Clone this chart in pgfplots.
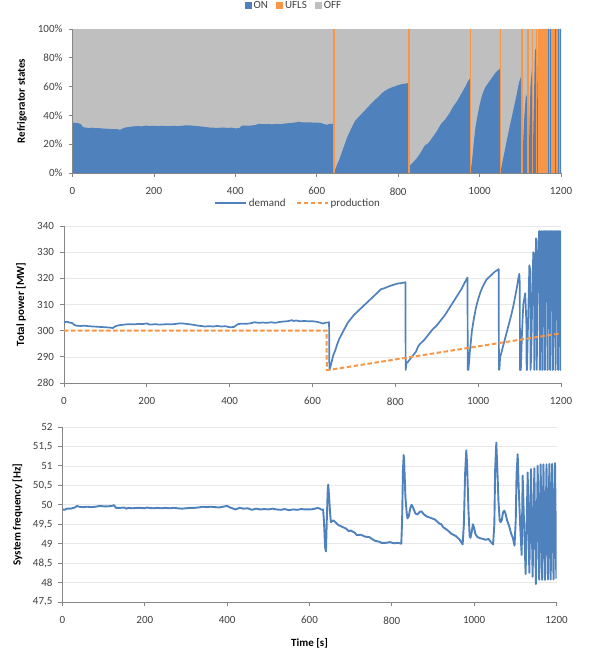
\documentclass[border=0pt]{standalone}
\usepackage{fontspec}
\setmainfont{Carlito}
\usepackage{pgfplots}
\pgfplotsset{compat=1.18}
\definecolor{onblue}{HTML}{4F81BD}
\definecolor{uorange}{HTML}{F79646}
\definecolor{offgray}{HTML}{BFBFBF}
\definecolor{axgray}{HTML}{868686}
\definecolor{tickc}{HTML}{404040}
\pgfplotsset{
  myaxis/.style={
    scale only axis,
    xmin=0, xmax=1200,
    xtick={0,200,...,1200},
    axis x line*=bottom, axis y line*=left,
    axis line style={axgray, line width=0.8pt},
    tick style={axgray, line width=0.8pt},
    tick align=outside,
    major tick length=4pt,
    ticklabel style={font=\fontsize{11}{13}\selectfont, text=tickc},
    label style={font=\bfseries\fontsize{11}{13}\selectfont},
    /pgf/number format/assume math mode=true,
    /pgf/number format/1000 sep={},
    xticklabel style={yshift=-7pt},
    yticklabel style={xshift=-2.5pt},
    ylabel style={anchor=center},
    legend style={draw=none, fill=none, font=\fontsize{11}{13}\selectfont, text=tickc},
  }
}
\begin{document}
\begin{tikzpicture}
\path[use as bounding box] (0pt,0pt) rectangle (590pt,654pt);
% ---------------- top: refrigerator states
\begin{axis}[myaxis, at={(72.5pt,481pt)}, anchor=south west,
  width=488.5pt, height=144pt, ymin=0, ymax=100, ytick={0,20,...,100},
  yticklabel={\pgfmathprintnumber{\tick}\%},
  ylabel={Refrigerator states},
  ylabel style={at={(axis description cs:-0.1034,0.5)}},
  axis on top,
  legend columns=3,
  legend style={at={(0.4534,1.1618)}, anchor=center,
    /tikz/every even column/.append style={column sep=6pt}},
  legend image code/.code={\path[#1, draw=none] (0pt,-3.5pt) rectangle (7pt,3.5pt);}]
\addplot[fill=offgray, draw=none, forget plot] coordinates {(0,100) (1200,100)} \closedcycle;
\addplot[fill=onblue, draw=none, forget plot] coordinates {
(0,34.5) (3,35.0) (8,34.6) (12,34.8) (18,34.2) (22,33.5) (25,32.0) (30,31.6) (40,31.2) (50,31.5)
(55,31.0) (60,31.3) (70,31.0) (80,30.8) (90,30.6) (100,30.5) (110,30.4) (118,30.0) (122,30.8) (130,31.6)
(140,32.0) (150,32.4) (160,32.6) (170,32.4) (180,32.9) (190,32.6) (200,32.8) (210,32.5) (220,32.8) (230,32.6)
(240,32.6) (250,32.7) (260,32.5) (270,32.9) (280,33.1) (290,33.0) (300,32.7) (310,32.5) (320,32.2) (330,31.8)
(340,31.5) (350,31.4) (360,31.4) (370,31.6) (380,31.3) (390,31.5) (400,31.0) (410,31.2) (415,32.6) (420,33.0)
(430,32.8) (440,33.0) (450,33.3) (455,34.0) (460,34.1) (470,33.9) (480,34.0) (490,33.8) (500,34.1) (510,33.9)
(520,34.3) (530,34.6) (540,34.8) (550,35.2) (555,35.6) (560,35.3) (570,35.1) (580,35.2) (590,35.0) (600,35.0)
(610,34.8) (615,34.2) (620,33.8) (625,33.5) (630,34.0) (641.8,34.3) (642.8,0)
(645,2) (650,6) (655,9) (660,13) (665,17) (670,21) (675,25) (680,28) (685,31) (690,34) (695,36.5) (700,38)
(710,41) (720,44) (730,47) (740,50) (750,52.5) (760,55.5) (770,57.5) (780,59) (790,60) (800,61) (810,61.8)
(820,62.2) (826,62.5) (827,0)
(828,5) (835,7) (845,10) (855,14) (865,19) (875,21) (885,25) (895,29) (905,34) (915,37) (925,41) (935,46)
(945,50) (955,55) (965,60) (972,64) (977.5,66) (978.3,0)
(979,3) (982,10) (986,22) (990,32) (995,40) (1000,47) (1005,53) (1010,57) (1015,60) (1020,62) (1030,66)
(1040,70) (1050.5,72.5) (1051.3,0)
(1053,3) (1060,13) (1070,27) (1080,40) (1090,53) (1097,63) (1103.2,68) (1104,0)
(1106,15) (1110,40) (1114,55) (1118.5,50) (1119,0) (1121,15) (1125,60) (1129.5,75) (1130,0)
(1132,30) (1136,85) (1139.2,87) (1139.6,0) (1141,40) (1144,95) (1145.2,95) (1145.5,0)
(1147,60) (1148.5,100) (1150.1,100) (1150.4,0) (1152,100) (1155,100) (1155.3,0) (1157,100) (1160.7,100)
(1161,0) (1162.5,100) (1165.7,100) (1166,0) (1167.5,100) (1171.2,100) (1171.5,0) (1173,100) (1177.1,100)
(1177.4,0) (1179,100) (1182.7,100) (1183,0) (1184.5,100) (1189.4,100) (1189.7,0) (1191.2,100) (1195.7,100)
(1196,0) (1197.5,100) (1200,100)} \closedcycle;
\addplot[ycomb, draw=uorange, line width=1.6pt, forget plot] coordinates {
(642.5,100) (826.8,100) (978,100) (1051,100) (1103.7,100) (1119,100) (1130,100) (1139.6,100) (1145.5,100)
(1150.4,100) (1155.3,100) (1161,100) (1166,100) (1171.5,100) (1177.4,100) (1183,100) (1189.7,100) (1196,100)};
\addlegendimage{fill=onblue}
\addlegendimage{fill=uorange}
\addlegendimage{fill=offgray}
\legend{ON,UFLS,OFF}
\end{axis}
% ---------------- middle: total power
\begin{axis}[myaxis, at={(64pt,271pt)}, anchor=south west,
  width=497pt, height=157pt, ymin=280, ymax=340, ytick={280,290,...,340},
  ymajorgrids, major grid style={black!9, line width=0.6pt},
  ylabel={Total power [MW]},
  ylabel style={at={(axis description cs:-0.0865,0.5)}},
  legend columns=2,
  legend style={at={(0.4708,1.1465)}, anchor=center,
    /tikz/every even column/.append style={column sep=8pt}},
  legend image code/.code={\draw[#1] (0pt,0pt) -- (31pt,0pt);}]
\addplot[onblue, line width=1.7pt, line join=round] coordinates {
(0,303.0) (5,303.4) (10,303.3) (15,303.0) (20,302.9) (25,302.2) (30,301.9) (40,301.8) (50,301.9) (60,301.7)
(70,301.6) (80,301.5) (90,301.4) (100,301.3) (110,301.2) (118,301.0) (122,301.5) (130,302.0) (140,302.2)
(150,302.4) (160,302.5) (170,302.4) (180,302.6) (190,302.5) (200,302.8) (205,302.4) (210,302.3) (220,302.5)
(230,302.3) (240,302.4) (250,302.5) (260,302.4) (270,302.6) (280,302.8) (290,302.7) (300,302.5) (310,302.3)
(320,302.0) (330,301.8) (340,301.6) (350,301.7) (360,301.6) (370,301.8) (380,301.6) (390,301.7) (400,301.3)
(410,301.4) (420,302.5) (430,302.7) (440,302.6) (450,302.8) (460,303.2) (470,303.0) (480,303.1) (490,303.0)
(500,303.2) (510,303.0) (520,303.3) (530,303.5) (540,303.6) (550,304.0) (555,303.7) (560,303.9) (570,303.6)
(580,303.7) (590,303.6) (600,303.6) (610,303.4) (620,303.0) (625,302.7) (630,303.0) (640,303.2) (640.8,285.0)
(643,286.0) (646,288.0) (650,290.5) (655,292.5) (660,295.0) (665,297.0) (670,298.5) (675,300.0) (680,301.5)
(685,303.0) (690,304.0) (700,306.0) (710,307.5) (720,309.0) (730,310.5) (740,312.0) (750,313.5) (760,315.0)
(765,315.8) (775,316.3) (785,317.0) (795,317.5) (805,318.0) (815,318.2) (824.3,318.5) (825,285.0)
(826.5,287.5) (830,288.0) (840,290.0) (850,292.0) (855,294.0) (860,295.0) (870,296.5) (880,298.5) (890,300.5)
(900,302.0) (910,304.0) (920,306.0) (930,308.5) (940,311.0) (950,313.5) (960,316.0) (968,318.5) (974.2,320.3)
(974.9,285) (976.5,285) (980,292) (985,300) (990,305) (995,309) (1000,312) (1005,314.5) (1010,316.5)
(1015,318) (1020,319.5) (1030,321) (1040,322.5) (1049.5,323.5) (1050.2,285) (1051.5,285.5) (1053,290)
(1056,291.5) (1060,294) (1065,297) (1070,300) (1075,303) (1080,306) (1085,309.5) (1090,313.5) (1094,317)
(1097,320) (1099.4,321.7) (1100.5,318) (1101,285) (1103,285) (1106,300) (1109,310) (1113.5,314.3) (1115,309)
(1116.5,302) (1117,285) (1118,285) (1120,300) (1123.6,325) (1126,323) (1126.5,285) (1128,290) (1131,315)
(1133,330) (1135,329) (1135.5,285) (1137,305) (1139.6,335.3) (1141,334) (1141.5,285) (1143,310) (1146.9,338)
(1148.5,338) (1148.8,285) (1149.4,285) (1151.3,338) (1154.2,338) (1154.5,285) (1155.1,285) (1157,338)
(1160.5,338) (1160.8,285) (1161.4,285) (1163.3,338) (1166.9,338) (1167.2,285) (1167.8,285) (1169.7,338)
(1173.3,338) (1173.6,285) (1174.2,285) (1176.1,338) (1179.7,338) (1180,285) (1180.6,285) (1182.5,338)
(1186.1,338) (1186.4,285) (1187,285) (1188.9,338) (1192.5,338) (1192.8,285) (1193.4,285) (1195.3,338)
(1198.3,338) (1198.6,285) (1199,285) (1200,338)};
\addlegendentry{demand}
\addplot[uorange, line width=2pt, dash pattern=on 4.5pt off 2.5pt] coordinates {
(0,300) (634,300) (634.5,285) (640,285) (1200,299)};
\addlegendentry{production}
\end{axis}
% ---------------- bottom: frequency
\begin{axis}[myaxis, at={(62.5pt,52pt)}, anchor=south west,
  width=494pt, height=175pt, ymin=47.5, ymax=52, ytick={47.5,48,...,52},
  yticklabel style={/pgf/number format/use comma},
  ymajorgrids, major grid style={black!9, line width=0.6pt},
  ylabel={System frequency [Hz]},
  ylabel style={at={(axis description cs:-0.0911,0.5)}},
  xlabel={Time [s]},
  xlabel style={at={(axis description cs:0.5,-0.2343)}, anchor=center}]
\addplot[onblue, line width=1.9pt, line join=round] coordinates {
(0,49.88) (5,49.87) (10,49.9) (20,49.9) (30,49.93) (35,49.97) (40,49.95) (50,49.94) (60,49.95) (70,49.94)
(80,49.95) (90,49.97) (100,49.96) (110,49.96) (120,49.97) (125,49.99) (130,49.92) (140,49.92) (150,49.93)
(155,49.90) (160,49.92) (170,49.91) (180,49.92) (190,49.92) (200,49.91) (205,49.93) (210,49.92) (220,49.91)
(230,49.92) (240,49.91) (250,49.92) (260,49.91) (270,49.92) (280,49.91) (290,49.90) (300,49.91) (310,49.92)
(320,49.92) (330,49.93) (340,49.95) (350,49.94) (360,49.95) (370,49.94) (380,49.93) (390,49.95) (400,49.97)
(405,49.94) (410,49.92) (420,49.88) (430,49.92) (440,49.9) (450,49.91) (460,49.87) (470,49.9) (480,49.88)
(490,49.89) (500,49.88) (510,49.9) (520,49.88) (530,49.87) (540,49.89) (550,49.86) (560,49.88) (570,49.87)
(580,49.89) (590,49.88) (600,49.88) (610,49.89) (620,49.92) (625,49.9) (630,49.87) (633,49.88) (635,49.6)
(638,48.9) (640,48.8) (642,49.6) (644,50.3) (645.5,50.52) (647,50.3) (650,49.8) (652,49.55) (655,49.58)
(658,49.6) (662,49.56) (670,49.48) (680,49.43) (690,49.38) (695,49.32) (700,49.34) (710,49.28) (715,49.22)
(725,49.23) (735,49.18) (745,49.17) (755,49.1) (760,49.07) (770,49.05) (775,49.02) (785,49.02) (795,49.04)
(805,49.01) (815,49.02) (823,49.0) (825,49.6) (827,50.9) (828.8,51.28) (830,51.1) (833,50.2) (836,49.8)
(838,49.65) (841,49.7) (845,49.92) (848,50.0) (852,49.92) (857,49.78) (862,49.75) (868,49.82) (872,49.83)
(878,49.75) (885,49.7) (895,49.66) (905,49.62) (915,49.52) (920,49.5) (925,49.42) (935,49.35) (945,49.25)
(955,49.2) (965,49.1) (972,48.98) (975,49.5) (978,50.8) (980.9,51.4) (983,51.0) (986,49.9) (989,49.2)
(991,49.15) (994,49.3) (997,49.5) (1000,49.4) (1003,49.25) (1008,49.17) (1015,49.14) (1022,49.12) (1028,49.1)
(1035,49.12) (1040,49.05) (1046,48.98) (1049,49.5) (1051,50.9) (1053.8,51.6) (1056,51.0) (1059,50.1)
(1062,49.6) (1064,49.55) (1067,49.6) (1070,49.8) (1073,49.85) (1076,49.78) (1080,49.6) (1085,49.45)
(1090,49.25) (1094,49.15) (1098,48.95) (1101,49.6) (1103,50.8) (1105.7,51.3) (1108,50.5) (1112,49.4)
(1115.4,48.71) (1117.8,50.75) (1121.5,49.4) (1125,48.22) (1130,50.83) (1134,48.25) (1138,50.92) (1142,48.15)
(1146.2,50.94) (1150,47.96) (1154.3,51.0) (1158,48.07) (1161.5,51.04) (1165,48.07) (1168.3,51.04) (1172,48.07)
(1175.7,51.04) (1179.3,48.08) (1182.6,51.05) (1185.9,48.08) (1189.2,51.05) (1192.8,48.08) (1196.4,51.07)
(1199.5,48.1)};
\end{axis}
\end{tikzpicture}
\end{document}
